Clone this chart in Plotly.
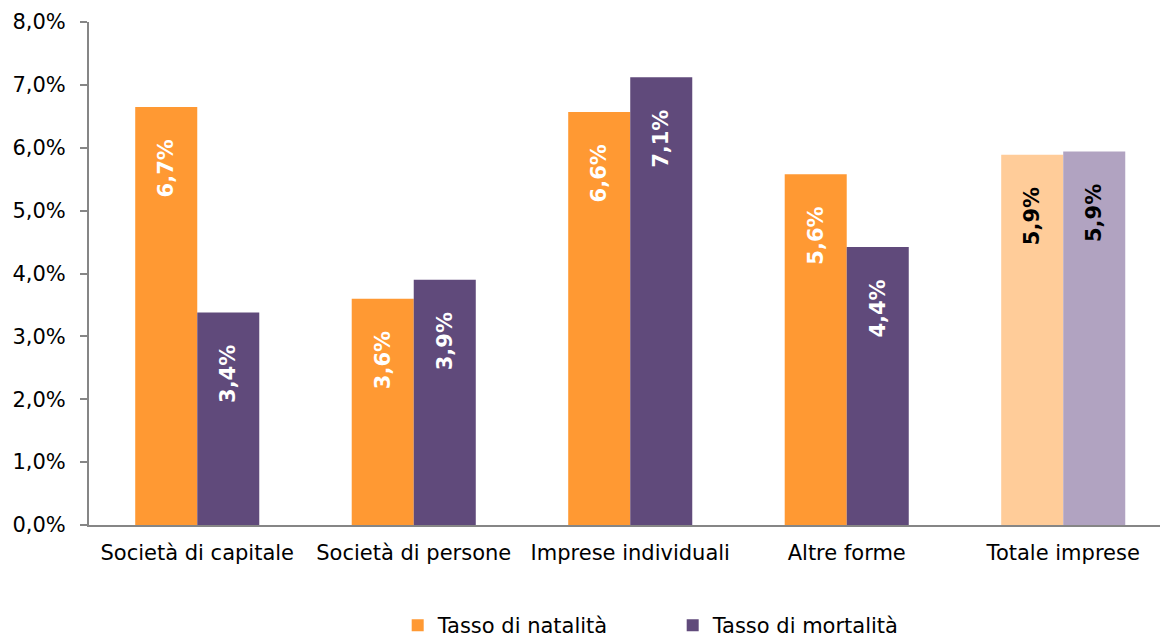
import plotly.graph_objects as go

categories = ["Società di capitale", "Società di persone", "Imprese individuali", "Altre forme", "Totale imprese"]
natalita = [6.65, 3.6, 6.57, 5.58, 5.89]
mortalita = [3.38, 3.9, 7.12, 4.42, 5.94]
series_names = ["Tasso di natalità", "Tasso di mortalità"]
tick_vals = [0, 1, 2, 3, 4, 5, 6, 7, 8]
tick_text = ["0,0%", "1,0%", "2,0%", "3,0%", "4,0%", "5,0%", "6,0%", "7,0%", "8,0%"]

orange = "#FF9933"
orange_light = "#FFCC99"
purple = "#604A7B"
purple_light = "#B1A3C1"

font = "DejaVu Sans"
pad = "\u00a0" * 4

def labels(vals):
    return [f"{v:.1f}".replace(".", ",") + "%" + pad for v in vals]

n = len(categories)
fig = go.Figure()
fig.add_trace(go.Bar(
    x=categories, y=natalita, name=series_names[0],
    marker=dict(color=[orange] * (n - 1) + [orange_light], line=dict(width=0)),
    text=labels(natalita), textposition="inside", insidetextanchor="end",
    textangle=-90,
    textfont=dict(family=font, size=21, color=["white"] * (n - 1) + ["black"], weight="bold"),
))
fig.add_trace(go.Bar(
    x=categories, y=mortalita, name=series_names[1],
    marker=dict(color=[purple] * (n - 1) + [purple_light], line=dict(width=0)),
    text=labels(mortalita), textposition="inside", insidetextanchor="end",
    textangle=-90,
    textfont=dict(family=font, size=21, color=["white"] * (n - 1) + ["black"], weight="bold"),
))

fig.update_layout(
    width=1160, height=640,
    margin=dict(l=89, r=0, t=22, b=115, autoexpand=False),
    paper_bgcolor="white", plot_bgcolor="white",
    barmode="group", bargap=0.427, bargroupgap=0,
    font=dict(family=font, size=21, color="black"),
    uniformtext=dict(mode=False),
    showlegend=True,
    legend=dict(orientation="h", x=0.545, xanchor="center", y=-0.2, yanchor="middle",
                font=dict(size=21), entrywidth=230, itemwidth=30,
                traceorder="normal"),
    xaxis=dict(range=[-0.5, 4.447], showline=True, linecolor="#868686", linewidth=2,
               ticks="", showgrid=False, tickfont=dict(size=21), ticklabelstandoff=8,
               automargin=False),
    yaxis=dict(range=[0, 8], tickvals=tick_vals, ticktext=tick_text,
               showline=True, linecolor="#868686", linewidth=2,
               ticks="outside", ticklen=7, tickcolor="#868686", tickwidth=2,
               showgrid=False, zeroline=False, tickfont=dict(size=21),
               ticklabelstandoff=10, automargin=False),
)

fig.write_html("out.html", config={"displayModeBar": False},
               post_script="document.body.style.margin='0';document.body.style.overflow='hidden';")
